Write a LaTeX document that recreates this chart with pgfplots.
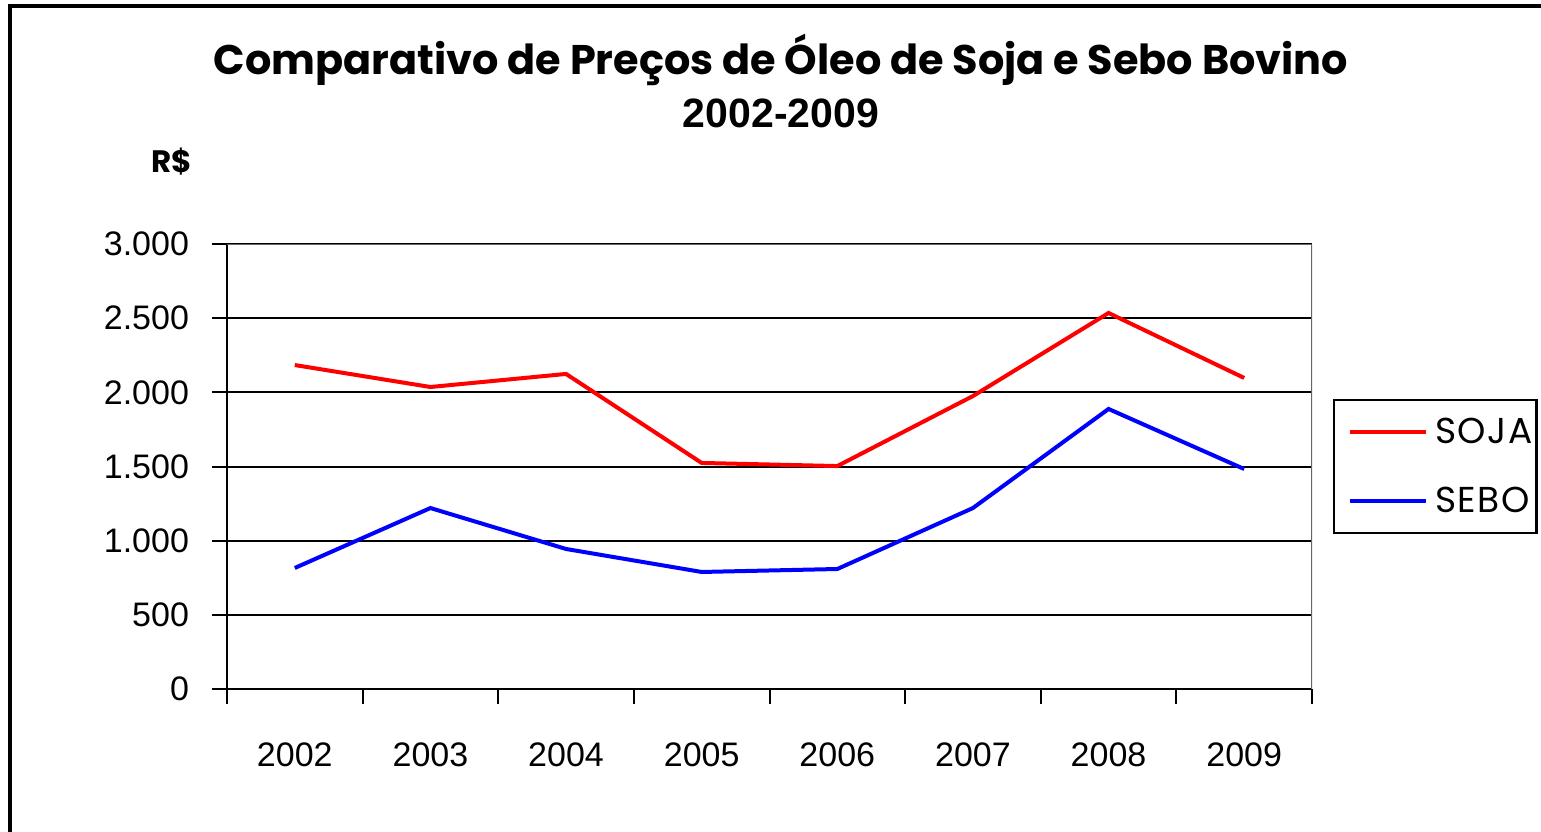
\documentclass[border=0pt]{standalone}
\usepackage{fontspec}
\usepackage{pgfplots}
\pgfplotsset{compat=1.18}
\setmainfont{Poppins}
\newfontfamily\arialf{Liberation Sans}
\newfontfamily\legf[LetterSpace=4]{Poppins}
\begin{document}
\begin{tikzpicture}
\path[use as bounding box] (0,0) rectangle (770.5pt,415.5pt);
\draw[line width=2pt] (5pt,-2pt) -- (5pt,412.25pt) -- (775pt,412.25pt);
\begin{axis}[
  at={(113.5pt,71pt)}, anchor=south west,
  scale only axis, width=542.5pt, height=222.5pt,
  xmin=-0.5, xmax=7.5, ymin=0, ymax=3000,
  axis lines=left, axis line style={-, line width=1pt, black},
  xtick={-0.5,0.5,...,7.5}, xticklabels={},
  extra x ticks={0,1,...,7},
  extra x tick labels={2002,2003,2004,2005,2006,2007,2008,2009},
  extra x tick style={major tick length=0pt, grid=none},
  ytick={0,500,...,3000},
  tick align=outside,
  major tick length=7.5pt,
  tick style={black, line width=1pt},
  ymajorgrids, major grid style={black, line width=1pt},
  /pgf/number format/.cd, 1000 sep={.}, assume math mode=true, /pgfplots/.cd,
  tick label style={font=\arialf\fontsize{17}{20}\selectfont},
  xticklabel style={yshift=-23.5pt},
  yticklabel style={xshift=-8pt},
  legend style={at={(1.0194,0.6517)}, anchor=north west, draw=black, line width=1.2pt,
    font=\legf\fontsize{18}{21}\selectfont, row sep=16pt, inner xsep=0pt, inner ysep=7pt,
    column sep=0pt, nodes={inner xsep=0pt}},
  legend cell align=left,
  legend image code/.code={\path[draw=none] (0pt,0pt) -- (50.5pt,0pt); \draw[#1, line width=2pt] (8pt,0pt) -- (46pt,0pt);},
]
\addplot[red, line width=2pt] coordinates {(0,2184) (1,2036) (2,2124) (3,1524) (4,1503) (5,1975) (6,2535) (7,2097)};
\addlegendentry{SOJA\hspace*{2pt}}
\addplot[blue, line width=2pt] coordinates {(0,816) (1,1220) (2,944) (3,789) (4,809) (5,1220) (6,1888) (7,1483)};
\addlegendentry{SEBO\hspace*{2pt}}
\draw[gray!80!black, line width=1pt] (rel axis cs:0,1) -- (rel axis cs:1,1) -- (rel axis cs:1,0);
\end{axis}
\node[font=\bfseries\fontsize{20.7}{24}\selectfont] at (390.5pt,385.5pt) {Comparativo de Preços de Óleo de Soja e Sebo Bovino};
\node[font=\arialf\bfseries\fontsize{20.5}{24}\selectfont] at (390.5pt,359pt) {2002-2009};
\node[font=\bfseries\fontsize{15.5}{18}\selectfont] at (86pt,334.5pt) {R\$};
\end{tikzpicture}
\end{document}
